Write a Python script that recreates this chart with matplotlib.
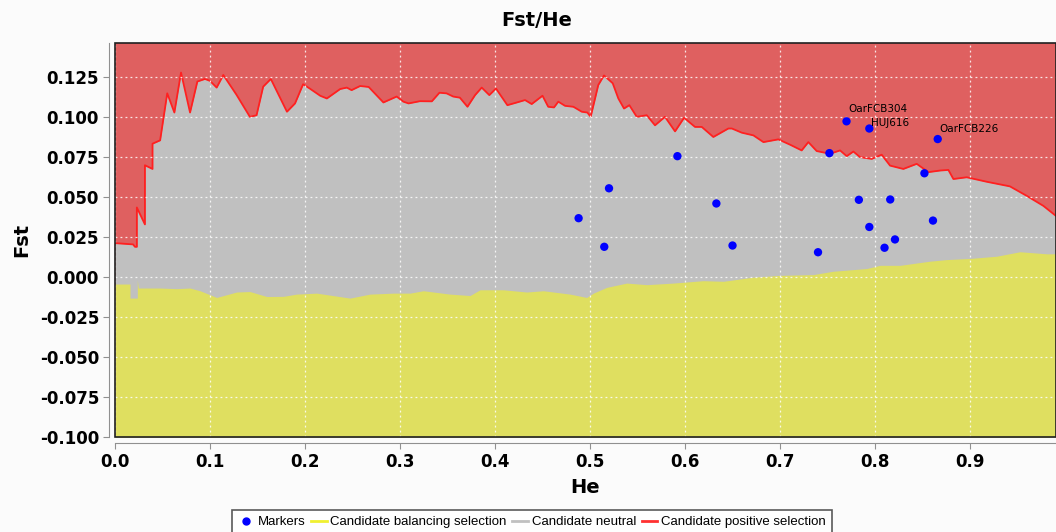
import numpy as np
import matplotlib
matplotlib.use("Agg")
import matplotlib.pyplot as plt
from matplotlib.lines import Line2D
from matplotlib.patches import Rectangle

# upper limit of the neutral band (red line)
upper_he = [0.000, 0.019, 0.021, 0.023, 0.023, 0.0315, 0.0315, 0.0395, 0.0395, 0.0475,
            0.055, 0.0625, 0.0695, 0.079, 0.0867, 0.0947, 0.100, 0.107, 0.114, 0.128,
            0.142, 0.149, 0.156, 0.164, 0.181, 0.1895, 0.198, 0.205, 0.216, 0.223,
            0.237, 0.244, 0.249, 0.258, 0.267, 0.2825, 0.2965, 0.3035, 0.309, 0.321,
            0.3335, 0.3415, 0.349, 0.356, 0.363, 0.371, 0.379, 0.386, 0.394, 0.401,
            0.413, 0.423, 0.4316, 0.4386, 0.450, 0.456, 0.4621, 0.4666, 0.4737, 0.4825,
            0.4913, 0.4972, 0.5007, 0.5087, 0.5147, 0.5239, 0.5298, 0.5358, 0.5414, 0.5492,
            0.5597, 0.5684, 0.5789, 0.5895, 0.599, 0.6105, 0.6176, 0.6298, 0.6456, 0.6493,
            0.6597, 0.672, 0.6825, 0.6982, 0.7105, 0.7228, 0.7298, 0.7386, 0.7526, 0.7632,
            0.7702, 0.7772, 0.7842, 0.7965, 0.807, 0.8158, 0.8298, 0.8439, 0.8561, 0.8684,
            0.8772, 0.8825, 0.8965, 0.9175, 0.942, 0.9596, 0.9772, 0.9905]
upper_fst = [0.0213, 0.0205, 0.019, 0.019, 0.0436, 0.033, 0.070, 0.0677, 0.0835, 0.0856,
             0.115, 0.103, 0.128, 0.103, 0.1224, 0.124, 0.1228, 0.1186, 0.1265, 0.114,
             0.1003, 0.1013, 0.1192, 0.124, 0.1035, 0.1087, 0.1207, 0.118, 0.1135, 0.1118,
             0.1177, 0.1186, 0.117, 0.1196, 0.119, 0.1093, 0.113, 0.1098, 0.1087, 0.1101,
             0.110, 0.1154, 0.115, 0.113, 0.1123, 0.1066, 0.1139, 0.1186, 0.1139, 0.118,
             0.1076, 0.1093, 0.1108, 0.1083, 0.1135, 0.1066, 0.1062, 0.1098, 0.1072, 0.1066,
             0.1035, 0.103, 0.1003, 0.1202, 0.1262, 0.1213, 0.1118, 0.1055, 0.1076, 0.1003,
             0.1013, 0.095, 0.1003, 0.0912, 0.0997, 0.094, 0.094, 0.0877, 0.093, 0.093,
             0.0904, 0.0887, 0.0845, 0.0862, 0.0829, 0.0793, 0.0845, 0.0789, 0.0772, 0.0793,
             0.0757, 0.0786, 0.0751, 0.074, 0.0766, 0.0698, 0.0677, 0.0709, 0.0657, 0.0667,
             0.0671, 0.0614, 0.0625, 0.0597, 0.0568, 0.0509, 0.0446, 0.0383]

# lower limit of the neutral band (top of the yellow area)
lower_he = [0.000, 0.0158, 0.0158, 0.0235, 0.0235, 0.0245, 0.0474, 0.0649, 0.0789, 0.0895,
            0.107, 0.128, 0.142, 0.1597, 0.1772, 0.1912, 0.2123, 0.2474, 0.2684, 0.293,
            0.3105, 0.3246, 0.3526, 0.3737, 0.3842, 0.4088, 0.4333, 0.4509, 0.4789, 0.4965,
            0.5035, 0.5175, 0.5386, 0.5597, 0.5877, 0.6193, 0.6403, 0.6719, 0.6999, 0.735,
            0.756, 0.7912, 0.8053, 0.8263, 0.8579, 0.8754, 0.900, 0.928, 0.9526, 0.9807, 0.9905]
lower_fst = [-0.0043, -0.0043, -0.0131, -0.0131, -0.0016, -0.0068, -0.0068, -0.0072, -0.0068, -0.0085,
             -0.0127, -0.0093, -0.009, -0.0121, -0.012, -0.0106, -0.010, -0.0131, -0.0106, -0.010,
             -0.010, -0.0085, -0.0106, -0.0115, -0.0079, -0.0079, -0.0093, -0.0085, -0.0106, -0.0127,
             -0.010, -0.0064, -0.0037, -0.0047, -0.0037, -0.0022, -0.0026, 0.0, 0.0011, 0.0016,
             0.0037, 0.0054, 0.0074, 0.0074, 0.010, 0.011, 0.0117, 0.0131, 0.0159, 0.0146, 0.0146]

# loci
marker_he = [0.488, 0.515, 0.520, 0.592, 0.633, 0.650, 0.740, 0.752, 0.770, 0.783,
             0.794, 0.794, 0.810, 0.816, 0.821, 0.852, 0.861, 0.866]
marker_fst = [0.0369, 0.0190, 0.0556, 0.0757, 0.0461, 0.0198, 0.0156, 0.0776, 0.0975, 0.0484,
              0.0930, 0.0314, 0.0184, 0.0486, 0.0236, 0.0650, 0.0354, 0.0864]
marker_names = ["", "", "", "", "", "", "", "", "OarFCB304", "",
                "HUJ616", "", "", "", "", "", "", "OarFCB226"]
# label offsets in points (x, y), so the two close labels do not collide
label_dy = {"OarFCB304": 6.5, "HUJ616": 1.5, "OarFCB226": 5}

xticks = [0.0, 0.1, 0.2, 0.3, 0.4, 0.5, 0.6, 0.7, 0.8, 0.9]
yticks = [-0.100, -0.075, -0.050, -0.025, 0.000, 0.025, 0.050, 0.075, 0.100, 0.125]

red = "#df6060"
gray = "#c0c0c0"
yellow = "#dfdf60"

fig = plt.figure(figsize=(10.56, 5.32), dpi=100, facecolor="#fbfbfb")
ax = fig.add_axes([115 / 1056, 1 - 437 / 532, 1 - 115 / 1056, (437 - 43) / 532])
ymin, ymax = -0.1, 0.1465
ax.set_xlim(0, 0.9905)
ax.set_ylim(ymin, ymax)
ax.set_facecolor(red)

ax.fill_between(upper_he, ymin, upper_fst, color=gray, lw=0, zorder=1)
ax.fill_between(lower_he, ymin, lower_fst, color=yellow, lw=0, zorder=1.5)
ax.plot(upper_he, upper_fst, color="#ff2020", lw=1.3, zorder=2)

ax.grid(True, color="white", ls=(0, (1.5, 2.5)), lw=0.9, alpha=0.85, zorder=1.8)
ax.set_axisbelow(False)

ax.scatter(marker_he, marker_fst, s=36, color="#0000ff", edgecolors="none", zorder=4)
for h, f, name in zip(marker_he, marker_fst, marker_names):
    if name:
        ax.annotate(name, (h, f), xytext=(1.5, label_dy[name]), textcoords="offset points",
                    fontsize=7.5, color="black", zorder=5)

# plot outline plus offset axis lines
ax.add_patch(Rectangle((0, 0), 1, 1, transform=ax.transAxes, fill=False,
                       ec="#202020", lw=1.2, zorder=6, clip_on=False))
for side in ["top", "right"]:
    ax.spines[side].set_visible(False)
for side in ["left", "bottom"]:
    ax.spines[side].set_position(("outward", 4))
    ax.spines[side].set_color("#909090")

ax.set_xticks(xticks)
ax.set_yticks(yticks)
ax.set_xticklabels(["%.1f" % v for v in xticks])
ax.set_yticklabels(["%.3f" % v for v in yticks])
ax.tick_params(axis="both", colors="#909090", length=4, labelcolor="black",
               labelsize=12)
for lab in ax.get_xticklabels() + ax.get_yticklabels():
    lab.set_fontweight("bold")

ax.set_xlabel("He", fontsize=14, fontweight="bold", labelpad=5)
ax.set_ylabel("Fst", fontsize=14, fontweight="bold", labelpad=6)
fig.text(537 / 1056, 1 - 20 / 532, "Fst/He", fontsize=14, fontweight="bold",
         ha="center", va="center")

handles = [
    Line2D([], [], ls="none", marker="o", color="#0000ff", markersize=5),
    Line2D([], [], color="#f0f030", lw=2),
    Line2D([], [], color=gray, lw=2),
    Line2D([], [], color="#ff3030", lw=2),
]
labels = ["Markers", "Candidate balancing selection", "Candidate neutral",
          "Candidate positive selection"]
leg = fig.legend(handles, labels, loc="upper center", ncol=4,
                 bbox_to_anchor=(532 / 1056, 1 - 510 / 532),
                 frameon=True, fancybox=False, edgecolor="#303030",
                 prop={"family": "Liberation Sans", "size": 9.5},
                 handlelength=1.2, handletextpad=0.3, columnspacing=0.4,
                 borderpad=0.45, borderaxespad=0)
leg.get_frame().set_linewidth(1.2)

fig.savefig("out.png", dpi=100, facecolor=fig.get_facecolor())
